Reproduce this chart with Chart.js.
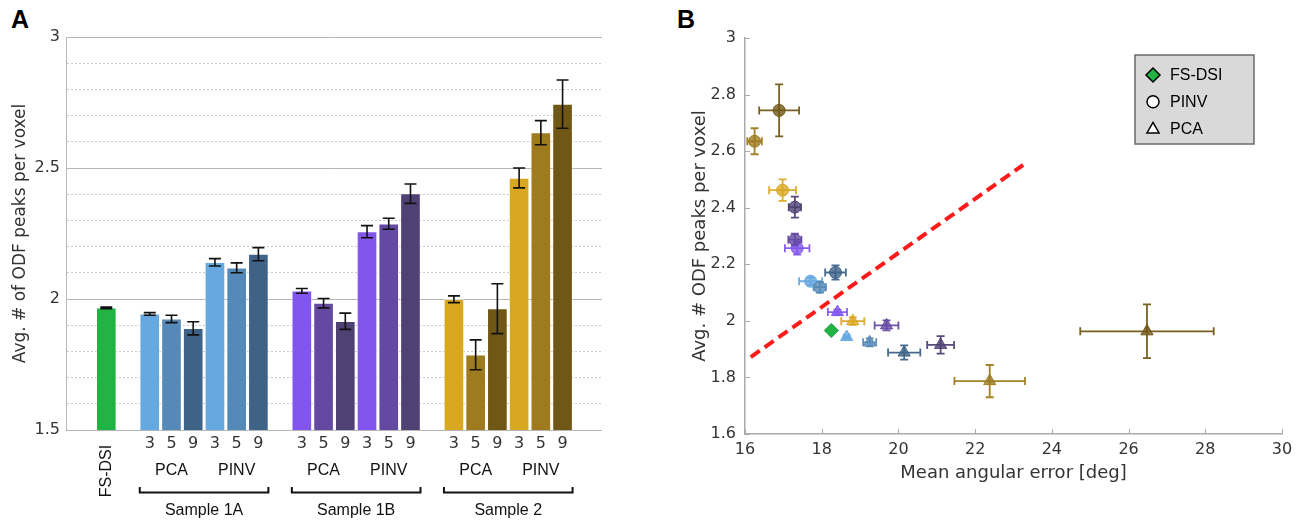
<!DOCTYPE html>
<html>
<head>
<meta charset="utf-8">
<script src="https://cdn.jsdelivr.net/npm/chart.js@4.4.1/dist/chart.umd.min.js"></script>
<style>
  body { margin: 0; background: #fff; width: 1306px; height: 529px; position: relative; overflow: hidden; }
  canvas { position: absolute; top: 0; }
  #chartA { left: 0; }
  #chartB { left: 640px; }
  .panel-letter { position: absolute; font: bold 25px "Liberation Sans", Arial, sans-serif; color: #000; }
</style>
</head>
<body>
<div class="panel-letter" style="left:11px; top:5px;">A</div>
<div class="panel-letter" style="left:677px; top:5px;">B</div>
<canvas id="chartA" width="640" height="529"></canvas>
<canvas id="chartB" width="666" height="529"></canvas>
<script>
// ---- data ----
const sampleNames = ['Sample 1A', 'Sample 1B', 'Sample 2'];
const methodNames = ['PCA', 'PINV'];
const kLabels = ['3', '5', '9', '3', '5', '9'];

const fsdsiPeaks = 1.966;
const fsdsiPeaksErr = 0.003;
const fsdsiAngErr = 18.25;

// each sample: PCA 3,5,9 then PINV 3,5,9
const peaks1A = [1.943, 1.924, 1.888, 2.140, 2.119, 2.171];
const peaks1AErr = [0.005, 0.014, 0.025, 0.014, 0.019, 0.025];
const peaks1B = [2.031, 1.984, 1.915, 2.257, 2.287, 2.402];
const peaks1BErr = [0.009, 0.018, 0.031, 0.023, 0.021, 0.037];
const peaks2 = [1.999, 1.787, 1.963, 2.462, 2.635, 2.744];
const peaks2Err = [0.013, 0.057, 0.095, 0.038, 0.046, 0.092];

const angErr1A = [18.65, 19.25, 20.15, 17.71, 17.95, 18.36];
const angErr1AErr = [0.06, 0.17, 0.42, 0.30, 0.16, 0.27];
const angErr1B = [18.41, 19.69, 21.10, 17.36, 17.30, 17.30];
const angErr1BErr = [0.25, 0.31, 0.35, 0.32, 0.17, 0.16];
const angErr2 = [18.81, 22.38, 26.48, 16.98, 16.25, 16.89];
const angErr2Err = [0.30, 0.92, 1.74, 0.35, 0.19, 0.52];

// red dashed reference line (panel B)
const trendX = [16.15, 23.25];
const trendY = [1.872, 2.551];

const fsdsiColor = '#22b345';
const colors1A = ['#66a8e0', '#5589b8', '#3e6387'];
const colors1B = ['#8256ee', '#6449a3', '#4f4174'];
const colors2 = ['#d9a823', '#9e7b1f', '#705716'];

const samplePeaks = [peaks1A, peaks1B, peaks2];
const samplePeaksErr = [peaks1AErr, peaks1BErr, peaks2Err];
const sampleAng = [angErr1A, angErr1B, angErr2];
const sampleAngErr = [angErr1AErr, angErr1BErr, angErr2Err];
const sampleColors = [colors1A, colors1B, colors2];

function rgba(hex, a) {
  const n = parseInt(hex.slice(1), 16);
  return `rgba(${(n >> 16) & 255},${(n >> 8) & 255},${n & 255},${a})`;
}

// ---- panel A: bars ----
const barData = [{ x: 0, y: fsdsiPeaks }];
const barErr = [fsdsiPeaksErr];
const barColors = [fsdsiColor];
samplePeaks.forEach((vals, s) => {
  vals.forEach((v, i) => {
    barData.push({ x: 2 + s * 7 + i, y: v });
    barErr.push(samplePeaksErr[s][i]);
    barColors.push(sampleColors[s][i % 3]);
  });
});

const isMajor = v => Math.abs(v * 2 - Math.round(v * 2)) < 1e-6;

const barErrorBars = {
  id: 'barErrorBars',
  afterDatasetsDraw(chart) {
    const { ctx, scales: { x, y } } = chart;
    ctx.save();
    ctx.strokeStyle = '#111';
    ctx.lineWidth = 1.6;
    barData.forEach((d, i) => {
      const px = x.getPixelForValue(d.x);
      const top = y.getPixelForValue(d.y + barErr[i]);
      const bot = y.getPixelForValue(d.y - barErr[i]);
      ctx.beginPath();
      ctx.moveTo(px, top); ctx.lineTo(px, bot);
      ctx.moveTo(px - 6, top); ctx.lineTo(px + 6, top);
      ctx.moveTo(px - 6, bot); ctx.lineTo(px + 6, bot);
      ctx.stroke();
    });
    ctx.restore();
  }
};

const groupLabels = {
  id: 'groupLabels',
  afterDraw(chart) {
    const { ctx, scales: { x } } = chart;
    ctx.save();
    ctx.fillStyle = '#111';
    ctx.strokeStyle = '#111';
    ctx.font = '16px "Liberation Sans", Arial, sans-serif';
    ctx.textAlign = 'center';
    ctx.textBaseline = 'middle';

    ctx.save();
    ctx.translate(x.getPixelForValue(0), 471);
    ctx.rotate(-Math.PI / 2);
    ctx.fillText('FS-DSI', 0, 0);
    ctx.restore();

    sampleNames.forEach((name, s) => {
      const first = 2 + s * 7;
      const last = first + 5;
      methodNames.forEach((m, j) => {
        ctx.fillText(m, x.getPixelForValue(first + 1 + j * 3), 471);
      });
      const l = x.getPixelForValue(first) - 10;
      const r = x.getPixelForValue(last) + 10;
      ctx.lineWidth = 2;
      ctx.beginPath();
      ctx.moveTo(l, 487); ctx.lineTo(l, 492.5); ctx.lineTo(r, 492.5); ctx.lineTo(r, 487);
      ctx.stroke();
      ctx.fillText(name, (l + r) / 2, 511);
    });
    ctx.restore();
  }
};

new Chart(document.getElementById('chartA'), {
  type: 'bar',
  data: {
    datasets: [{
      data: barData,
      backgroundColor: barColors,
      borderColor: 'rgba(255,255,255,0.45)',
      borderWidth: 1,
      barThickness: 20
    }]
  },
  options: {
    responsive: false,
    animation: false,
    layout: { padding: { top: 37, right: 38, bottom: 0, left: 0 } },
    plugins: { legend: { display: false }, tooltip: { enabled: false } },
    scales: {
      x: {
        type: 'linear',
        min: -1.17,
        max: 22.13,
        grid: { display: false, drawTicks: false },
        border: { display: false },
        afterBuildTicks: s => { s.ticks = barData.slice(1).map(d => ({ value: d.x })); },
        afterFit: s => { s.height = 99; },
        ticks: {
          autoSkip: false,
          maxRotation: 0,
          padding: 4,
          color: '#333',
          font: { family: 'DejaVu Sans', size: 16 },
          callback: (v, i) => kLabels[i % 6]
        }
      },
      y: {
        min: 1.5,
        max: 3,
        afterFit: s => { s.width = 66; },
        ticks: {
          stepSize: 0.1,
          autoSkip: false,
          padding: 6,
          color: '#333',
          font: { family: 'DejaVu Sans', size: 16 },
          callback: v => isMajor(v) ? String(v) : ''
        },
        grid: {
          drawTicks: false,
          lineWidth: 1,
          color: c => (c.tick && !isMajor(c.tick.value)) ? '#c9c9c9' : '#b5b5b5'
        },
        border: {
          color: '#bbb',
          dash: c => (c.tick && !isMajor(c.tick.value)) ? [2, 2] : []
        },
        title: {
          display: true,
          text: 'Avg. # of ODF peaks per voxel',
          color: '#333',
          font: { family: 'DejaVu Sans', size: 17 },
          padding: { top: 10, bottom: 0 }
        }
      }
    }
  },
  plugins: [barErrorBars, groupLabels]
});

// ---- panel B: scatter ----
const allPoints = [];
const pinvPts = [], pinvFill = [], pinvLine = [];
const pcaPts = [], pcaFill = [], pcaLine = [];
sampleAng.forEach((xs, s) => {
  xs.forEach((xv, i) => {
    const pt = { x: xv, y: samplePeaks[s][i] };
    const col = sampleColors[s][i % 3];
    allPoints.push({ ...pt, xErr: sampleAngErr[s][i], yErr: samplePeaksErr[s][i], color: col });
    if (i < 3) { pcaPts.push(pt); pcaFill.push(rgba(col, 0.8)); pcaLine.push(col); }
    else { pinvPts.push(pt); pinvFill.push(rgba(col, 0.8)); pinvLine.push(col); }
  });
});

const scatterErrorBars = {
  id: 'scatterErrorBars',
  beforeDatasetsDraw(chart) {
    const { ctx, scales: { x, y } } = chart;
    ctx.save();
    ctx.lineWidth = 1.8;
    allPoints.forEach(p => {
      const px = x.getPixelForValue(p.x), py = y.getPixelForValue(p.y);
      const x0 = x.getPixelForValue(p.x - p.xErr), x1 = x.getPixelForValue(p.x + p.xErr);
      const y0 = y.getPixelForValue(p.y - p.yErr), y1 = y.getPixelForValue(p.y + p.yErr);
      ctx.strokeStyle = rgba(p.color, 0.95);
      ctx.beginPath();
      ctx.moveTo(x0, py); ctx.lineTo(x1, py);
      ctx.moveTo(x0, py - 4); ctx.lineTo(x0, py + 4);
      ctx.moveTo(x1, py - 4); ctx.lineTo(x1, py + 4);
      ctx.moveTo(px, y0); ctx.lineTo(px, y1);
      ctx.moveTo(px - 4, y0); ctx.lineTo(px + 4, y0);
      ctx.moveTo(px - 4, y1); ctx.lineTo(px + 4, y1);
      ctx.stroke();
    });
    ctx.restore();
  }
};

const axisDecor = {
  id: 'axisDecor',
  afterDraw(chart) {
    const { ctx, chartArea: a, scales: { x, y } } = chart;
    ctx.save();
    // inward tick marks
    ctx.strokeStyle = '#aaa';
    ctx.lineWidth = 1;
    ctx.beginPath();
    x.ticks.forEach(t => {
      const px = Math.round(x.getPixelForValue(t.value)) + 0.5;
      ctx.moveTo(px, a.bottom); ctx.lineTo(px, a.bottom - 5);
    });
    y.ticks.forEach(t => {
      const py = Math.round(y.getPixelForValue(t.value)) + 0.5;
      ctx.moveTo(a.left, py); ctx.lineTo(a.left + 5, py);
    });
    ctx.stroke();

    // legend box
    const lx = 495, ly = 55, lw = 119, lh = 89;
    ctx.fillStyle = '#d9d9d9';
    ctx.fillRect(lx, ly, lw, lh);
    ctx.strokeStyle = '#6a6a6a';
    ctx.lineWidth = 1.5;
    ctx.strokeRect(lx, ly, lw, lh);
    const entries = [
      { label: 'FS-DSI', style: 'rectRot', fill: fsdsiColor, r: 7 },
      { label: 'PINV', style: 'circle', fill: '#fff', r: 6 },
      { label: 'PCA', style: 'triangle', fill: '#fff', r: 7 }
    ];
    ctx.font = '16px "Liberation Sans", Arial, sans-serif';
    ctx.textBaseline = 'middle';
    entries.forEach((e, i) => {
      const ey = ly + 20 + i * 26.7;
      ctx.fillStyle = e.fill;
      ctx.strokeStyle = '#000';
      ctx.lineWidth = 1.5;
      Chart.helpers.drawPoint(ctx, { pointStyle: e.style, radius: e.r, borderWidth: 1.5, rotation: 0 }, lx + 18, ey + (e.style === 'triangle' ? 1 : 0));
      ctx.fillStyle = '#000';
      ctx.fillText(e.label, lx + 35, ey + 1);
    });
    ctx.restore();
  }
};

new Chart(document.getElementById('chartB'), {
  type: 'scatter',
  data: {
    datasets: [
      {
        label: 'FS-DSI',
        data: [{ x: fsdsiAngErr, y: fsdsiPeaks }],
        pointStyle: 'rectRot',
        pointRadius: 7,
        backgroundColor: fsdsiColor,
        borderColor: '#1c9a3b',
        borderWidth: 1
      },
      {
        label: 'PINV',
        data: pinvPts,
        pointStyle: 'circle',
        pointRadius: 6,
        backgroundColor: pinvFill,
        borderColor: pinvLine,
        borderWidth: 1
      },
      {
        label: 'PCA',
        data: pcaPts,
        pointStyle: 'triangle',
        pointRadius: 7,
        backgroundColor: pcaFill,
        borderColor: pcaLine,
        borderWidth: 1
      },
      {
        label: 'trend',
        data: trendX.map((xv, i) => ({ x: xv, y: trendY[i] })),
        showLine: true,
        borderColor: '#ff1a1a',
        borderWidth: 4,
        borderDash: [11, 6],
        pointRadius: 0
      }
    ]
  },
  options: {
    responsive: false,
    animation: false,
    layout: { padding: { top: 38, right: 24, bottom: 0, left: 0 } },
    plugins: { legend: { display: false }, tooltip: { enabled: false } },
    scales: {
      x: {
        type: 'linear',
        min: 16,
        max: 30,
        afterFit: s => { s.height = 95; },
        grid: { display: false, drawTicks: false },
        border: { color: '#aaa', width: 1.5 },
        ticks: {
          stepSize: 2,
          padding: 6,
          maxRotation: 0,
          color: '#333',
          font: { family: 'DejaVu Sans', size: 16 }
        },
        title: {
          display: true,
          text: 'Mean angular error [deg]',
          color: '#333',
          font: { family: 'DejaVu Sans', size: 18 },
          padding: { top: 0, bottom: 45 }
        }
      },
      y: {
        min: 1.6,
        max: 3,
        afterFit: s => { s.width = 105; },
        grid: { display: false, drawTicks: false },
        border: { color: '#aaa', width: 1.5 },
        ticks: {
          stepSize: 0.2,
          padding: 9,
          color: '#333',
          font: { family: 'DejaVu Sans', size: 16 },
          callback: v => String(+v.toFixed(1))
        },
        title: {
          display: true,
          text: 'Avg. # ODF peaks per voxel',
          color: '#333',
          font: { family: 'DejaVu Sans', size: 18 },
          padding: { top: 50, bottom: 0 }
        }
      }
    }
  },
  plugins: [scatterErrorBars, axisDecor]
});
</script>
</body>
</html>
